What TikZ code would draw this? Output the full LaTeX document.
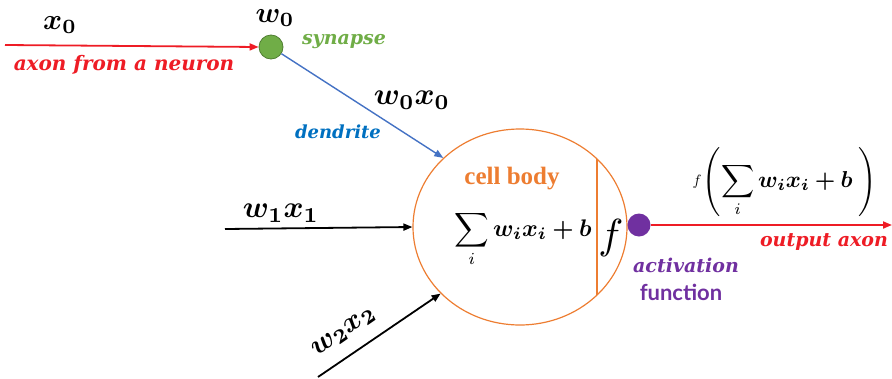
\documentclass[tikz,border=0pt]{standalone}
\usepackage{amsmath,bm}
\usepackage{fontspec}
\newfontfamily\labfont{DejaVu Serif}
\newfontfamily\cellfont{Liberation Serif}
\newfontfamily\funfont{Lato}
\usetikzlibrary{arrows.meta,shapes.geometric}
\definecolor{myred}{HTML}{EE1C25}
\definecolor{mygreen}{HTML}{70AD47}
\definecolor{mydkgreen}{HTML}{507E32}
\definecolor{myblue}{HTML}{4472C4}
\definecolor{mytblue}{HTML}{0070C0}
\definecolor{myorange}{HTML}{ED7D31}
\definecolor{mypurple}{HTML}{7030A0}
\tikzset{
  lab/.style={inner sep=0pt, font=\labfont\bfseries\itshape\fontsize{19}{22}\selectfont},
  mth/.style={inner sep=0pt, scale=2.9},
  arr/.style={line width=1.8pt, -{Triangle[length=9pt,width=7pt]}},
}
\begin{document}
\begin{tikzpicture}[x=1pt,y=-1pt]
\useasboundingbox (0,0) rectangle (892,378);
% cell body
\node[ellipse, draw=myorange, line width=1.2pt, minimum width=214pt, minimum height=196pt, inner sep=0pt] (cell) at (520,227) {};
\coordinate (chT) at (597,159);
\coordinate (chB) at (597,295);
\draw[myorange, line width=1.3pt] (chT) -- (chB);
% synapse
\node[circle, fill=mygreen, draw=mydkgreen, line width=0.8pt, minimum size=24pt, inner sep=0pt] (syn) at (271,47) {};
\coordinate (in0) at (5,45);
\draw[arr, myred] (in0) -- (syn.west);
\draw[myblue, line width=1.4pt, -{Triangle[length=9pt,width=7pt]}] (syn) -- (cell.138);
% inputs
\coordinate (in1) at (225,229);
\draw[arr, black] (in1) -- (cell.west);
\coordinate (in2) at (318,377);
\draw[arr, black] (in2) -- (cell.220);
% activation
\node[circle, fill=mypurple, minimum size=23pt, inner sep=0pt] (act) at (639,225) {};
\coordinate (out) at (892,225);
\draw[arr, myred] (act) -- (out);
% texts
\node[mth] (tx0) at (60,25) {$\bm{x_0}$};
\node[mth] (tw0) at (275,18) {$\bm{w_0}$};
\node[lab, text=mygreen] (tsyn) at (344,42) {synapse};
\node[lab, text=myred, font=\labfont\bfseries\itshape\fontsize{20}{24}\selectfont] (taxon) at (124,65) {axon from a neuron};
\node[mth, scale=1.05] (tw0x0) at (412,100) {$\bm{w_0x_0}$};
\node[lab, text=mytblue, font=\labfont\bfseries\itshape\fontsize{18}{22}\selectfont] (tden) at (338,132) {dendrite};
\node[mth, scale=1.05] (tw1x1) at (281,213) {$\bm{w_1x_1}$};
\node[mth, scale=1.0, rotate=34.7] (tw2x2) at (344,332) {$\bm{w_2x_2}$};
\node[inner sep=0pt, text=myorange, font=\cellfont\bfseries\fontsize{25}{30}\selectfont] (tcell) at (512,179) {cell body};
\node[inner sep=0pt, scale=2.4] (tsum) at (523,239) {$\displaystyle\sum_i \bm{w_ix_i+b}$};
\node[inner sep=0pt, scale=4.2] (tf) at (611,238) {$f$};
\node[inner sep=0pt, scale=1.5] (tf2) at (697,182) {$f$};
\node[inner sep=0pt, scale=2.3] (tfs) at (790,182) {$\left(\displaystyle\sum_i \bm{w_ix_i+b}\;\right)$};
\node[lab, text=myred] (tout) at (824,242) {output axon};
\node[lab, text=mypurple] (tact) at (686,265) {activation};
\node[inner sep=0pt, text=mypurple, font=\funfont\bfseries\fontsize{22}{26}\selectfont] (tfun) at (681,292) {function};
\end{tikzpicture}
\end{document}
